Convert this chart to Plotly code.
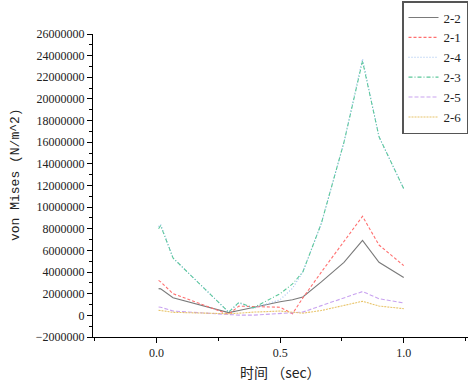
import plotly.graph_objects as go

time_s = [0.0083, 0.0167, 0.0667, 0.2917, 0.3333, 0.3917, 0.5, 0.55, 0.5917, 0.6667, 0.7583, 0.8333, 0.9, 1.0]

s_2_2 = [2.47e6, 2.45e6, 1.63e6, 0.25e6, 0.45e6, 0.75e6, 1.25e6, 1.45e6, 1.7e6, 3.1e6, 4.9e6, 6.93e6, 4.9e6, 3.5e6]
s_2_1 = [3.23e6, 3.1e6, 2.0e6, 0.1e6, 0.85e6, 0.8e6, 0.75e6, 0.15e6, 1.6e6, 4.0e6, 6.8e6, 9.15e6, 6.5e6, 4.6e6]
s_2_4 = [8.2e6, 8.4e6, 5.3e6, 0.3e6, 1.15e6, 0.65e6, 1.45e6, 2.5e6, 4.0e6, 8.5e6, 16.0e6, 23.7e6, 16.5e6, 11.7e6]
s_2_3 = [8.0e6, 8.3e6, 5.3e6, 0.3e6, 1.2e6, 0.7e6, 2.0e6, 2.9e6, 4.0e6, 8.5e6, 16.0e6, 23.5e6, 16.5e6, 11.7e6]
s_2_5 = [0.77e6, 0.75e6, 0.4e6, 0.06e6, 0.02e6, 0.02e6, 0.15e6, 0.2e6, 0.3e6, 0.9e6, 1.6e6, 2.2e6, 1.54e6, 1.14e6]
s_2_6 = [0.46e6, 0.45e6, 0.28e6, 0.15e6, 0.2e6, 0.3e6, 0.4e6, 0.3e6, 0.2e6, 0.45e6, 0.9e6, 1.3e6, 0.86e6, 0.62e6]

series_names = ["2-2", "2-1", "2-4", "2-3", "2-5", "2-6"]
series_vals = [s_2_2, s_2_1, s_2_4, s_2_3, s_2_5, s_2_6]
colors = ["#7a7a7a", "#ff7070", "#9bbcf0", "#5cc89a", "#c9a3f0", "#e8c46a"]
dashes = ["solid", "3px,2px", "1px,2px", "4px,2px,1px,2px", "4px,2px", "2px,1px"]

fig = go.Figure()
for name, vals, c, d in zip(series_names, series_vals, colors, dashes):
    fig.add_trace(go.Scatter(x=time_s, y=vals, mode="lines", name=name,
                             line=dict(color=c, width=1.1, dash=d)))

fig.update_layout(
    width=472, height=381,
    margin=dict(l=93, r=4, t=34, b=44, autoexpand=False),
    paper_bgcolor="white", plot_bgcolor="white",
    font=dict(family="Liberation Serif", size=12, color="#222"),
    showlegend=True,
    legend=dict(x=(402 - 93) / 375, xanchor="left", y=(337 - 1) / 303, yanchor="top",
                bordercolor="#555", borderwidth=1.5, bgcolor="white",
                font=dict(family="Liberation Serif", size=13, color="#222"),
                tracegroupgap=0, itemwidth=30),
    xaxis=dict(range=[-0.257, 1.26], showgrid=False, zeroline=False,
               showline=True, linecolor="black", linewidth=1,
               ticks="outside", ticklen=5, tickcolor="black",
               tickvals=[0, 0.5, 1.0], ticktext=["0.0", "0.5", "1.0"],
               minor=dict(ticks="outside", ticklen=3, tickcolor="black", dtick=0.25, tick0=0),
               tickfont=dict(family="Liberation Serif", size=12)),
    yaxis=dict(range=[-2e6, 26e6], showgrid=False, zeroline=False,
               showline=True, linecolor="black", linewidth=1,
               ticks="outside", ticklen=5, tickcolor="black",
               dtick=2e6, tick0=0, tickformat="d",
               minor=dict(ticks="outside", ticklen=3, tickcolor="black", dtick=1e6, tick0=0),
               tickfont=dict(family="Liberation Serif", size=12)),
    annotations=[
        dict(text="von Mises (N/m^2)", xref="paper", yref="paper",
             x=(15 - 93) / 375, y=(337 - 175) / 303, textangle=-90,
             showarrow=False, xanchor="center", yanchor="middle",
             font=dict(family="Liberation Mono", size=13, color="#222")),
        dict(text="时间 （sec）", xref="paper", yref="paper",
             x=(280 - 93) / 375, y=(337 - 372) / 303,
             showarrow=False, xanchor="center", yanchor="middle",
             font=dict(family="Noto Sans CJK SC", size=14, color="#222")),
    ],
)

fig.write_html("out.html", config={"displayModeBar": False},
               post_script="document.body.style.margin='0px';document.body.style.overflow='hidden';")
